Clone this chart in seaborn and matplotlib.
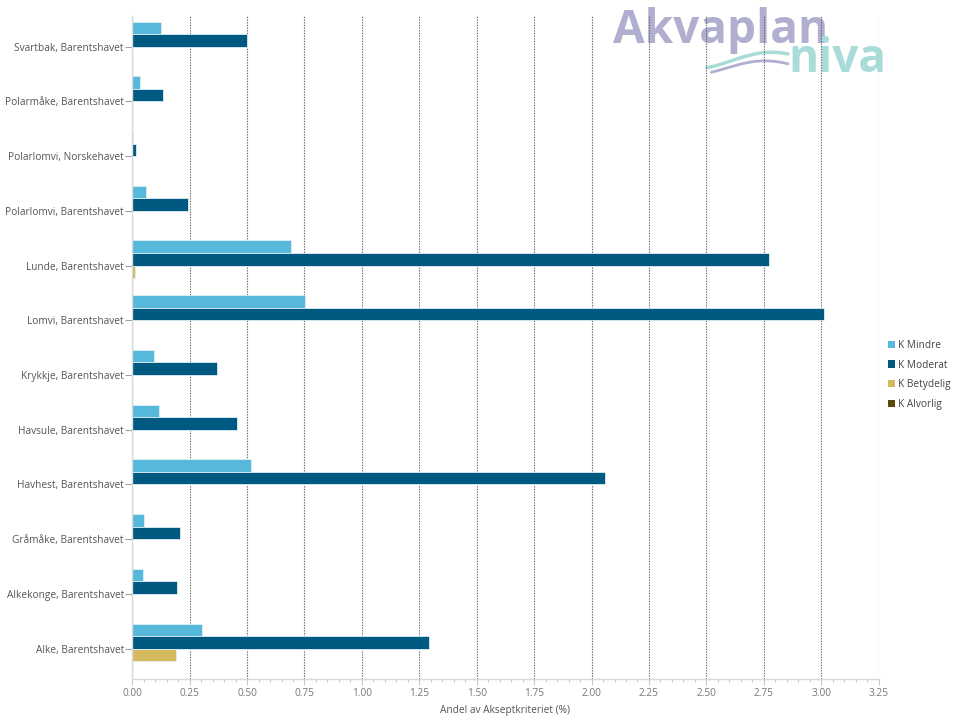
import matplotlib
matplotlib.use("Agg")
import matplotlib.pyplot as plt
import seaborn as sns
import pandas as pd
import numpy as np
from matplotlib.ticker import MultipleLocator, FormatStrFormatter
from matplotlib.patches import Patch

categories = [
    "Svartbak, Barentshavet",
    "Polarmåke, Barentshavet",
    "Polarlomvi, Norskehavet",
    "Polarlomvi, Barentshavet",
    "Lunde, Barentshavet",
    "Lomvi, Barentshavet",
    "Krykkje, Barentshavet",
    "Havsule, Barentshavet",
    "Havhest, Barentshavet",
    "Gråmåke, Barentshavet",
    "Alkekonge, Barentshavet",
    "Alke, Barentshavet",
]
series_names = ["K Mindre", "K Moderat", "K Betydelig", "K Alvorlig"]
k_mindre = [0.124, 0.032, 0.005, 0.060, 0.690, 0.754, 0.093, 0.116, 0.516, 0.051, 0.047, 0.305]
k_moderat = [0.499, 0.134, 0.016, 0.243, 2.772, 3.013, 0.367, 0.456, 2.058, 0.206, 0.195, 1.292]
k_betydelig = [0.0, 0.0, 0.0, 0.0, 0.012, 0.0, 0.0, 0.0, 0.0, 0.0, 0.0, 0.190]
k_alvorlig = [0.0] * 12
colors = ["#56B8DB", "#005980", "#D4B95E", "#5C4A0A"]
x_label = "Andel av Akseptkriteriet (%)"

rows = []
for name, vals in zip(series_names, [k_mindre, k_moderat, k_betydelig, k_alvorlig]):
    for c, v in zip(categories, vals):
        rows.append({"Kategori": c, "Serie": name, "Verdi": v})
df = pd.DataFrame(rows)

sns.set_theme(style="white")
plt.rcParams["font.family"] = ["Open Sans", "DejaVu Sans"]

fig = plt.figure(figsize=(9.55, 7.16), dpi=100)
ax = fig.add_axes([0.1385, 0.052, 0.7815, 0.925])
ax.set_facecolor("none")

sns.barplot(data=df, y="Kategori", x="Verdi", hue="Serie", order=categories,
            hue_order=series_names, palette=colors, orient="h", width=0.915,
            ax=ax, legend=False, saturation=1, edgecolor="#dfeff5", linewidth=0.6)

ax.set_xlim(0, 3.25)
ax.set_ylim(11.55, -0.55)
ax.xaxis.set_major_locator(MultipleLocator(0.25))
ax.xaxis.set_minor_locator(MultipleLocator(0.05))
ax.xaxis.set_major_formatter(FormatStrFormatter("%.2f"))
ax.set_axisbelow(True)
ax.xaxis.grid(True, which="major", linestyle=(0, (1.2, 1.2)), color="#666666", linewidth=0.8)
ax.yaxis.grid(False)

for s in ["top", "right"]:
    ax.spines[s].set_visible(False)
for s in ["left", "bottom"]:
    ax.spines[s].set_color("#d9d9d9")
    ax.spines[s].set_linewidth(1.0)

ax.tick_params(axis="x", which="major", length=4, width=0.8, color="#c8c8c8",
               labelsize=7.3, labelcolor="#777777", bottom=True, pad=3)
ax.tick_params(axis="x", which="minor", length=2.5, width=0.8, color="#c8c8c8", bottom=True)
ax.tick_params(axis="y", length=5, width=0.8, color="#a0a0a0", labelsize=7.3,
               labelcolor="#555555", left=True, pad=1)
ax.set_ylabel("")
ax.set_xlabel(x_label, fontsize=7.3, color="#555555", labelpad=4)

handles = [Patch(facecolor=c, edgecolor="none") for c in colors]
fig.legend(handles, series_names, loc="upper left", bbox_to_anchor=(0.922, 0.535),
           frameon=False, fontsize=7.3, handlelength=0.75, handleheight=0.75,
           handletextpad=0.3, labelspacing=0.85, labelcolor="#444444", borderpad=0.2)

# logo (behind the grid)
fig.text(0.642, 0.958, "Akvaplan", fontsize=33, fontweight="bold", color="#b0afd0",
         ha="left", va="center", family=["Open Sans", "DejaVu Sans"], zorder=-1)
fig.text(0.826, 0.917, "niva", fontsize=33, fontweight="bold", color="#a9dcd9",
         ha="left", va="center", family=["Open Sans", "DejaVu Sans"], zorder=-1)
t = np.linspace(0, 1, 50)
fig.add_artist(plt.Line2D(0.74 + 0.085 * t, 0.915 + 0.012 * np.sin(np.pi * (t - 0.3)),
                          transform=fig.transFigure, color="#a9dcd9", lw=2.5, zorder=-1))
fig.add_artist(plt.Line2D(0.745 + 0.08 * t, 0.905 + 0.01 * np.sin(np.pi * (t - 0.2)),
                          transform=fig.transFigure, color="#b0afd0", lw=2, zorder=-1))

fig.savefig("out.png", dpi=100)
